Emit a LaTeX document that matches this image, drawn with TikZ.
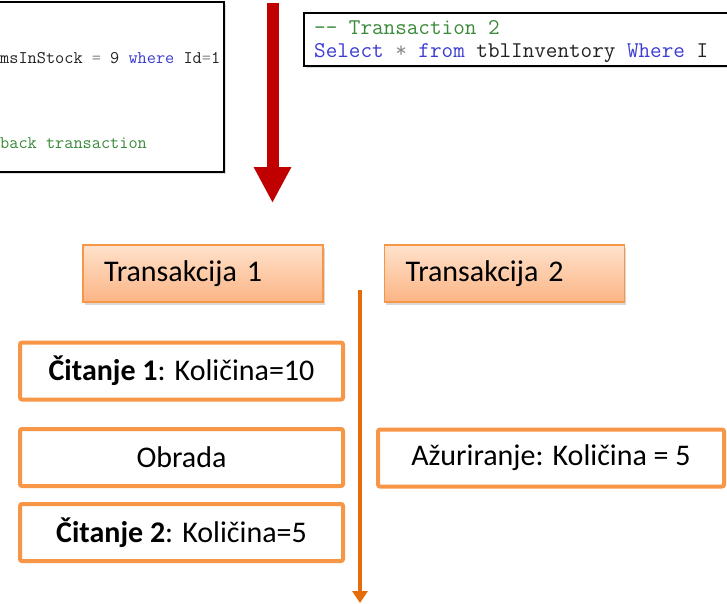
\documentclass[tikz,border=0pt]{standalone}
\usepackage{fontspec}
\setmainfont{Carlito}
\usetikzlibrary{arrows.meta,shadows}
\definecolor{boxorange}{HTML}{F79646}
\definecolor{lineorange}{HTML}{E46C0A}
\definecolor{darkred}{HTML}{C00000}
\definecolor{peachtop}{HTML}{FFE2CC}
\definecolor{peachbot}{HTML}{FBB484}
\definecolor{cmtgreen}{HTML}{3A8A3A}
\definecolor{kwblue}{HTML}{3C3CD2}
\definecolor{opgray}{HTML}{8A8A8A}
\definecolor{codeblack}{HTML}{222222}
\tikzset{
  codebox/.style={draw=black, line width=1.6pt, fill=white, drop shadow={opacity=0.25, shadow xshift=1.5pt, shadow yshift=-1.5pt}},
  codetxt/.style={font=\ttfamily\fontsize{#1}{#1}\selectfont, inner sep=0pt, anchor=base west, text=codeblack},
  transbox/.style={draw=boxorange, line width=1.2pt, top color=peachtop, bottom color=peachbot,
     minimum width=240pt, minimum height=57pt, text width=198pt, inner xsep=21pt, align=left,
     font=\fontsize{30}{36}\selectfont,
     drop shadow={opacity=0.3, shadow xshift=1.5pt, shadow yshift=-3pt}},
  stepnode/.style={draw=boxorange, line width=4pt, fill=white, rounded corners=2pt,
     minimum width=323pt, minimum height=57pt, inner sep=0pt, font=\fontsize{30}{36}\selectfont},
}
\begin{document}
\begin{tikzpicture}[x=1pt,y=-1pt]
\useasboundingbox (0,0) rectangle (727,603);
\clip (0,0) rectangle (727,603);
% code screenshots
\path[codebox] (-20,2) rectangle (224,172);
\node[codetxt=17.8] (l1) at (0,63) {msInStock {\color{opgray}=} 9 {\color{kwblue}where} Id{\color{opgray}=}1};
\node[codetxt=17.8, text=cmtgreen] (l2) at (0,148) {back transaction};
\path[codebox] (304,13) rectangle (760,66);
\node[codetxt=22.5, text=cmtgreen] (r1) at (314,34) {-- Transaction 2};
\node[codetxt=22.5] (r2) at (314,57) {{\color{kwblue}Select} {\color{opgray}*} {\color{kwblue}from} tblInventory {\color{kwblue}Where} I};
% red arrow
\coordinate (ra) at (272.5,3);
\coordinate (rb) at (272.5,203);
\draw[darkred, line width=12pt, -{Triangle[width=35pt,length=36pt]}] (ra) -- (rb);
% transaction headers
\node[transbox] (t1) at (203,273.5) {Transakcija 1};
\node[transbox] (t2) at (504.5,273.5) {Transakcija 2};
% timeline
\coordinate (tla) at (360,290);
\coordinate (tlb) at (360,603);
\draw[lineorange, line width=3.5pt, -{Triangle[width=15pt,length=12pt]}] (tla) -- (tlb);
% steps
\node[stepnode] (c1) at (181.5,371) {\textbf{Čitanje 1}: Količina=10};
\node[stepnode] (ob) at (181.5,457.5) {Obrada};
\node[stepnode] (c2) at (181.5,532.5) {\textbf{Čitanje 2}: Količina=5};
\node[stepnode, minimum width=346pt] (az) at (551,458) {Ažuriranje: Količina = 5};
\end{tikzpicture}
\end{document}
